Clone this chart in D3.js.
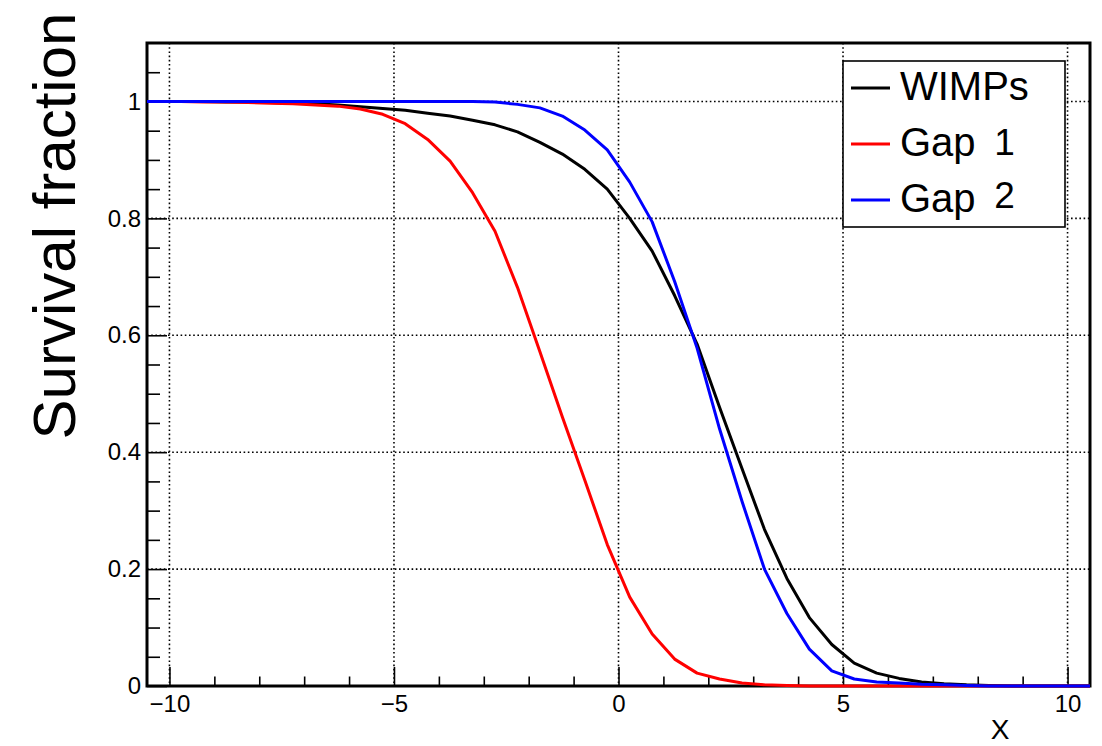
<!DOCTYPE html>
<html>
<head>
<meta charset="utf-8">
<script src="https://cdn.jsdelivr.net/npm/d3@7"></script>
<style>
  html, body { margin: 0; padding: 0; background: #fff; }
  svg { display: block; }
  text { font-family: "Liberation Sans", Arial, Helvetica, sans-serif; }
</style>
</head>
<body>
<svg id="chart" width="1102" height="746"></svg>
<script>
// ---- data ----
const xValues = [-10.5, -10.25, -9.75, -9.25, -8.75, -8.25, -7.75, -7.25, -6.75, -6.25, -5.75, -5.25, -4.75, -4.25, -3.75, -3.25, -2.75, -2.25, -1.75, -1.25, -0.75, -0.25, 0.25, 0.75, 1.25, 1.75, 2.25, 2.75, 3.25, 3.75, 4.25, 4.75, 5.25, 5.75, 6.25, 6.75, 7.25, 7.75, 8.25, 8.75, 9.25, 9.75, 10.25, 10.5];
const wimps = [1.0, 1.0, 1.0, 1.0, 0.999, 0.999, 0.998, 0.997, 0.996, 0.994, 0.991, 0.988, 0.985, 0.980, 0.975, 0.968, 0.960, 0.948, 0.930, 0.910, 0.884, 0.850, 0.800, 0.744, 0.668, 0.585, 0.477, 0.372, 0.268, 0.184, 0.117, 0.071, 0.039, 0.022, 0.013, 0.007, 0.004, 0.002, 0.001, 0.0, 0.0, 0.0, 0.0, 0.0];
const gap1 = [1.0, 1.0, 1.0, 0.999, 0.999, 0.998, 0.997, 0.996, 0.994, 0.992, 0.987, 0.978, 0.962, 0.935, 0.898, 0.844, 0.778, 0.682, 0.572, 0.460, 0.352, 0.242, 0.152, 0.089, 0.046, 0.022, 0.012, 0.005, 0.002, 0.001, 0.0, 0.0, 0.0, 0.0, 0.0, 0.0, 0.0, 0.0, 0.0, 0.0, 0.0, 0.0, 0.0, 0.0];
const gap2 = [1.0, 1.0, 1.0, 1.0, 1.0, 1.0, 1.0, 1.0, 1.0, 1.0, 1.0, 1.0, 1.0, 1.0, 1.0, 1.0, 0.999, 0.995, 0.989, 0.975, 0.951, 0.917, 0.862, 0.794, 0.692, 0.578, 0.440, 0.316, 0.200, 0.124, 0.063, 0.026, 0.012, 0.007, 0.005, 0.003, 0.002, 0.001, 0.0, 0.0, 0.0, 0.0, 0.0, 0.0];

const seriesNames = ["WIMPs", "Gap", "Gap"];
const seriesSuffix = ["", "1", "2"];
const seriesColors = ["#000000", "#ff0000", "#0000ff"];

const xMajorTicks = [-10, -5, 0, 5, 10];
const xMajorLabels = ["\u221210", "\u22125", "0", "5", "10"];
const xMinorTicks = [-9, -8, -7, -6, -4, -3, -2, -1, 1, 2, 3, 4, 6, 7, 8, 9];
const yMajorTicks = [0, 0.2, 0.4, 0.6, 0.8, 1.0];
const yMajorLabels = ["0", "0.2", "0.4", "0.6", "0.8", "1"];
const yMinorTicks = [0.05, 0.1, 0.15, 0.25, 0.3, 0.35, 0.45, 0.5, 0.55, 0.65, 0.7, 0.75, 0.85, 0.9, 0.95, 1.05];

const xTitle = "X";
const yTitle = "Survival fraction";

// ---- layout ----
const frame = { left: 147, right: 1090, top: 43, bottom: 686 };
const svg = d3.select("#chart");

const x = d3.scaleLinear().domain([-10.5, 10.5]).range([frame.left, frame.right]);
const y = d3.scaleLinear().domain([0, 1.1]).range([frame.bottom, frame.top]);

// grid (dotted)
const grid = svg.append("g").attr("class", "grid")
  .attr("stroke", "#000").attr("stroke-width", 1.6).attr("stroke-dasharray", "1.6,2.6");
grid.selectAll("line.gx").data(xMajorTicks).join("line")
  .attr("x1", d => x(d)).attr("x2", d => x(d))
  .attr("y1", frame.top).attr("y2", frame.bottom);
grid.selectAll("line.gy").data(yMajorTicks.filter(d => d > 0)).join("line")
  .attr("y1", d => y(d)).attr("y2", d => y(d))
  .attr("x1", frame.left).attr("x2", frame.right);

// axes
const fontSize = 24;
const xAxisMajor = d3.axisBottom(x).tickValues(xMajorTicks)
  .tickFormat((d, i) => xMajorLabels[i]).tickSizeInner(-19).tickSizeOuter(0).tickPadding(9);
const xAxisMinor = d3.axisBottom(x).tickValues(xMinorTicks)
  .tickFormat("").tickSizeInner(-9.5).tickSizeOuter(0);
const yAxisMajor = d3.axisLeft(y).tickValues(yMajorTicks)
  .tickFormat((d, i) => yMajorLabels[i]).tickSizeInner(-20).tickSizeOuter(0).tickPadding(6);
const yAxisMinor = d3.axisLeft(y).tickValues(yMinorTicks)
  .tickFormat("").tickSizeInner(-13).tickSizeOuter(0);

function styleAxis(g) {
  g.select(".domain").remove();
  g.selectAll(".tick line").attr("stroke", "#000").attr("stroke-width", 1.6);
  g.selectAll(".tick text").attr("fill", "#000")
    .style("font-family", '"Liberation Sans", Arial, sans-serif').style("font-size", fontSize + "px");
}
svg.append("g").attr("transform", `translate(0,${frame.bottom})`).call(xAxisMinor).call(styleAxis);
svg.append("g").attr("transform", `translate(0,${frame.bottom})`).call(xAxisMajor).call(styleAxis);
svg.append("g").attr("transform", `translate(${frame.left},0)`).call(yAxisMinor).call(styleAxis);
svg.append("g").attr("transform", `translate(${frame.left},0)`).call(yAxisMajor).call(styleAxis);

// frame
svg.append("rect")
  .attr("x", frame.left).attr("y", frame.top)
  .attr("width", frame.right - frame.left).attr("height", frame.bottom - frame.top)
  .attr("fill", "none").attr("stroke", "#000").attr("stroke-width", 3);

// curves
const allSeries = [wimps, gap1, gap2];
const line = d3.line().x(d => x(d[0])).y(d => y(d[1]));
allSeries.forEach((vals, i) => {
  svg.append("path")
    .datum(xValues.map((xv, j) => [xv, vals[j]]))
    .attr("fill", "none")
    .attr("stroke", seriesColors[i])
    .attr("stroke-width", 3)
    .attr("stroke-linejoin", "round")
    .attr("d", line);
});

// legend
const legend = svg.append("g").attr("class", "legend");
legend.append("rect")
  .attr("x", 843).attr("y", 61).attr("width", 222).attr("height", 166)
  .attr("fill", "#fff").attr("stroke", "#000").attr("stroke-width", 1.6);
const rowY = [88, 144, 200];
seriesNames.forEach((name, i) => {
  legend.append("line")
    .attr("x1", 851).attr("x2", 890).attr("y1", rowY[i]).attr("y2", rowY[i])
    .attr("stroke", seriesColors[i]).attr("stroke-width", 3);
  const t = legend.append("text")
    .attr("x", 900).attr("y", rowY[i] + 12)
    .attr("font-size", 40).attr("fill", "#000")
    .text(name);
  if (seriesSuffix[i]) {
    t.append("tspan").attr("x", 984).attr("dy", i === 2 ? -4 : -1)
      .attr("font-size", 37).text(" " + seriesSuffix[i]);
  }
});

// axis titles
svg.append("text")
  .attr("transform", "translate(75,226) rotate(-90)")
  .attr("text-anchor", "middle")
  .attr("font-size", 60).attr("fill", "#000")
  .text(yTitle);
svg.append("text")
  .attr("x", 1000).attr("y", 739)
  .attr("text-anchor", "middle")
  .attr("font-size", 28).attr("fill", "#000")
  .text(xTitle);
</script>
</body>
</html>
